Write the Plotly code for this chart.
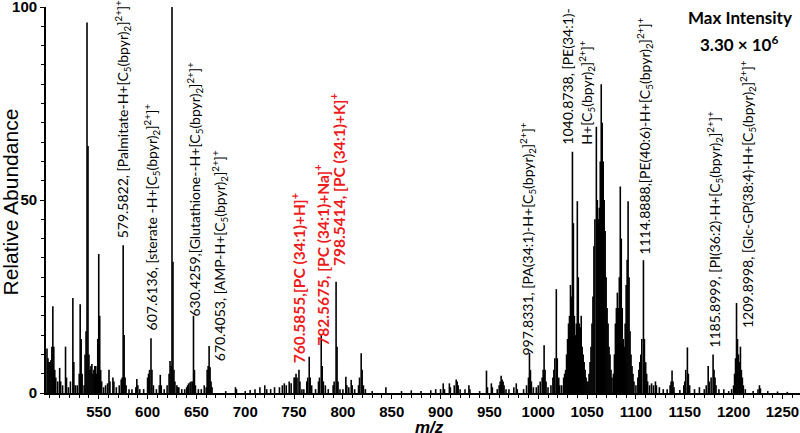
import plotly.graph_objects as go

# ---- spectrum peaks (m/z, relative abundance %) ----
mz = [
    497, 498, 499, 500, 501, 502, 503, 504, 505, 506, 508, 510, 511, 513, 516, 517, 519, 521,
    523.5, 524.5, 526, 528, 530, 531, 532, 533, 535, 536, 537, 538, 539, 540, 541, 542, 543,
    544, 545, 546, 547, 548, 549, 550, 551, 552, 553, 555, 557, 559, 560.5, 561.5, 564.5,
    565.5, 568, 571, 573, 574, 575, 576, 577, 578, 581, 584, 588, 589, 590, 592, 596, 600,
    601, 602, 603.5, 604.5, 606, 609, 612, 613, 614, 617, 620, 622, 623, 624, 625, 626, 627,
    628, 630, 631, 632, 635, 638, 640, 641, 642, 643.5, 644.5, 646, 647, 648, 649, 652, 655,
    658, 660, 661, 662, 663, 664, 665, 666, 680, 690, 691, 700, 705, 710, 715, 720, 722, 726,
    730, 735, 738, 740, 742, 745, 747, 750, 751, 752, 753, 755, 756, 758, 760, 763, 764,
    765.5, 766.5, 768, 772, 775, 776, 777.8, 778.8, 780, 782, 785, 790, 791, 793, 794, 795,
    797, 800, 803, 804, 806, 808.5, 809.5, 812, 816, 817, 818.7, 819.7, 821, 823, 830, 844,
    860, 870, 880, 890, 895, 900, 902.7, 904, 909, 910, 914, 916, 917, 918, 920, 925, 929,
    930, 940, 947, 948, 952, 953, 958, 960, 961, 962, 963, 964, 965, 967, 970, 975, 977.5,
    978.5, 985, 988, 990, 991, 992, 993, 995, 998, 1000, 1002, 1004, 1005, 1006, 1007, 1008,
    1010, 1013, 1015, 1016, 1017, 1018.5, 1019.5, 1021, 1022, 1024, 1026, 1027, 1028, 1029,
    1030, 1031, 1032, 1033, 1034, 1035, 1036, 1037, 1038, 1039, 1040, 1041, 1042, 1043,
    1044, 1045, 1046, 1047, 1048, 1049, 1050, 1051, 1052, 1053, 1054, 1055, 1056, 1057,
    1058, 1059.5, 1060.5, 1061.5, 1062.5, 1063.5, 1064.5, 1065.5, 1066.5, 1067.5, 1068.5,
    1069.5, 1070.5, 1071.5, 1072.5, 1073.5, 1074.5, 1075.5, 1077, 1078, 1079, 1080, 1081,
    1082, 1083, 1084, 1085, 1086, 1087, 1088, 1089, 1090, 1091, 1092, 1093, 1094, 1095,
    1096, 1097, 1098, 1100, 1102, 1103, 1104, 1105, 1106, 1107.7, 1108.7, 1110, 1111, 1112,
    1114, 1116, 1118, 1120, 1121, 1124, 1128, 1132, 1135, 1136, 1137, 1138, 1139, 1145,
    1149, 1150, 1151, 1152.7, 1153.7, 1155, 1160, 1165, 1170, 1172, 1174, 1175, 1177, 1179,
    1180, 1181, 1182, 1185, 1190, 1195, 1198, 1200, 1201, 1202, 1203, 1204, 1205, 1206,
    1207, 1208, 1209, 1210, 1212, 1220, 1225, 1226.5, 1227.5, 1235, 1245, 1255,
]
rel_abundance = [
    11.5, 9, 8, 8, 8.5, 12, 22.5, 12, 6, 4, 3, 6.5, 3, 2, 12, 4, 1.5, 3,
    24.6, 8, 2, 2, 5, 23, 14, 5, 2, 10, 16, 96, 64, 10, 6, 7, 7.5,
    5, 6, 7, 7, 5, 14, 36, 20, 6, 3, 1.5, 2, 2.5, 6, 3, 4,
    3, 1.5, 2, 3.5, 4, 38.3, 15, 4, 2, 1, 1, 1.5, 3.6, 2, 1, 1, 4,
    5, 6, 14.2, 6, 2, 1, 2, 4.7, 2, 1, 2, 5, 8.3, 7, 100, 34, 6,
    3, 2, 1.5, 1.5, 1, 1, 1.5, 2, 2.5, 2.8, 3, 3, 20, 6, 2, 1, 1,
    2, 1.5, 6, 7, 12.2, 6.7, 3, 1.5, 0.5, 1.5, 1, 0.5, 0.8, 1, 1.5, 2, 1, 1,
    1.5, 1.5, 2, 2.5, 2, 3, 2.5, 4, 4, 5, 4, 6, 3, 1, 1, 3, 4,
    9.4, 4, 2, 1, 3, 4, 15, 7, 3, 2, 1, 2, 3, 28.8, 12, 3,
    1, 1, 4.2, 2, 1.5, 3.4, 2, 1, 2, 4, 10.3, 6, 2, 1, 0.5, 1.5,
    0.5, 0.7, 0.5, 0.7, 1, 1, 2.5, 1, 2.5, 1.5, 2, 3.5, 3, 2, 1, 1, 2,
    1, 0.5, 5.8, 1.5, 2.5, 1.5, 1, 2, 3, 4.5, 3.5, 3, 2, 1, 1, 1.5, 2.5,
    1, 1, 2, 4, 10.4, 6, 3, 1.5, 1.5, 2, 3, 4, 6, 12.4, 6, 3,
    1.5, 2, 4, 6, 9, 26.9, 9, 4, 2, 2, 4, 5, 6, 10,
    14, 18, 20, 28, 25, 62.5, 44, 20, 15, 18, 49.7, 30, 18, 17,
    20, 12, 10, 8, 6, 4, 3, 3, 5, 8, 12, 18, 25, 38,
    45, 69, 50, 45, 48, 60, 80, 70, 60, 50, 42,
    30, 22, 18, 12, 10, 6, 4, 5, 10, 18, 22, 26,
    22, 30, 53.5, 40, 22, 14, 12, 18, 28, 34.5, 49.7, 30, 16, 10,
    7, 5, 3, 2, 4, 6, 8, 10, 14, 34.4, 14, 8, 5, 3,
    2, 2.5, 2, 3, 2, 1.5, 1, 1, 2, 3, 5.8, 3, 1.5, 0.8,
    2, 3, 6, 11.8, 5, 2, 1, 1.5, 1, 2, 7, 3, 4, 10,
    6, 4, 2, 1, 1, 0.5, 1, 2, 5, 9, 23.3, 14, 10, 8,
    12, 6, 4, 2, 1, 0.5, 1, 2, 1.2, 0.5, 0.4, 0.3,
]

x_ticks = [550, 600, 650, 700, 750, 800, 850, 900, 950, 1000, 1050, 1100, 1150, 1200, 1250]
y_ticks = [0, 50, 100]

# ---- peak labels ----
SUFFIX = "[C<sub>5</sub>(bpyr)<sub>2</sub>]<sup>2+</sup>]<sup>+</sup>"
label_text = [
    "579.5822, [Palmitate-H+" + SUFFIX,
    "607.6136, [sterate -H+" + SUFFIX,
    "630.4259,[Glutathione--H+" + SUFFIX,
    "670.4053, [AMP-H+" + SUFFIX,
    "<b>760.5855,[PC (34:1)+H]<sup>+</sup></b>",
    "<b>782.5675, [PC (34:1)+Na]<sup>+</sup></b>",
    "<b>798.5414, [PC (34:1)+K]<sup>+</sup></b>",
    "997.8331, [PA(34:1)-H+" + SUFFIX,
    "1040.8738, [PE(34:1)-<br>H+" + SUFFIX,
    "1114.8888,[PE(40:6)-H+" + SUFFIX,
    "1185.8999, [PI(36:2)-H+" + SUFFIX,
    "1209.8998, [Glc-GP(38:4)-H+" + SUFFIX,
]
label_mz = [574, 604.5, 648.5, 674, 754.5, 778.0, 794.5, 989.5, 1040.2, 1109.3, 1181, 1213.7]
label_base = [39.6, 15.8, 19.4, 7.8, 7.3, 11.7, 32.4, 9.3, 63.7, 35.2, 11.1, 16.3]
label_red = [False, False, False, False, True, True, True, False, False, False, False, False]

xs, ys = [], []
for m, h in zip(mz, rel_abundance):
    xs += [m, m, None]
    ys += [0, h, None]

fig = go.Figure()
fig.add_trace(go.Scatter(x=xs, y=ys, mode="lines",
                         line=dict(color="black", width=1.6),
                         hoverinfo="skip", showlegend=False))

LABEL_FONT = "Lato, 'Open Sans', sans-serif"
for t, xm, yb, red in zip(label_text, label_mz, label_base, label_red):
    fig.add_annotation(x=xm, y=yb, text=t, textangle=-90, showarrow=False,
                       xanchor="center", yanchor="bottom", align="left",
                       font=dict(family=LABEL_FONT, size=15.5 if red else 14,
                                 color="#ee1c1c" if red else "black"))

fig.add_annotation(x=1206.6, y=97.4, text="<b>Max Intensity</b>", showarrow=False,
                   xanchor="center", yanchor="middle",
                   font=dict(family=LABEL_FONT, size=17, color="black"))
fig.add_annotation(x=1205.5, y=90.6, text="<b>3.30 × 10<sup>6</sup></b>", showarrow=False,
                   xanchor="center", yanchor="middle",
                   font=dict(family=LABEL_FONT, size=17, color="black"))

# axis titles
fig.add_annotation(xref="paper", yref="paper", x=-0.047, y=0.495, text="Relative Abundance",
                   textangle=-90, showarrow=False, xanchor="center", yanchor="middle",
                   font=dict(family="Liberation Sans, Arial, sans-serif", size=21, color="black"))
fig.add_annotation(xref="paper", yref="paper", x=0.508, y=-0.089, text="<b><i>m/z</i></b>",
                   showarrow=False, xanchor="center", yanchor="middle",
                   font=dict(family="Liberation Sans, Arial, sans-serif", size=17, color="black"))

tick_font = dict(family="Liberation Sans, Arial, sans-serif", size=15, color="black", weight="bold")
fig.update_xaxes(range=[496, 1268], tickvals=x_ticks, ticks="outside", ticklen=4,
                 tickwidth=1.2, tickcolor="black", showline=True, linecolor="black",
                 linewidth=1.5, showgrid=False, zeroline=False, tickfont=tick_font,
                 automargin=False, ticklabeloverflow="allow",
                 minor=dict(dtick=10, tick0=500, ticks="outside", ticklen=3,
                            tickcolor="black", tickwidth=1))
fig.update_yaxes(range=[0, 100], tickvals=y_ticks, ticks="outside", ticklen=4,
                 tickwidth=1.2, tickcolor="black", showline=True, linecolor="black",
                 linewidth=1.8, showgrid=False, zeroline=False, tickfont=tick_font,
                 automargin=False, ticklabeloverflow="allow",
                 minor=dict(dtick=5, ticks="outside", ticklen=3, tickcolor="black",
                            tickwidth=1))

fig.update_layout(width=800, height=433, margin=dict(l=46, r=0, t=7, b=40, autoexpand=False),
                  plot_bgcolor="white", paper_bgcolor="white", showlegend=False)
fig.write_html("out.html", config={"displayModeBar": False},
               post_script="document.body.style.margin='0';")
